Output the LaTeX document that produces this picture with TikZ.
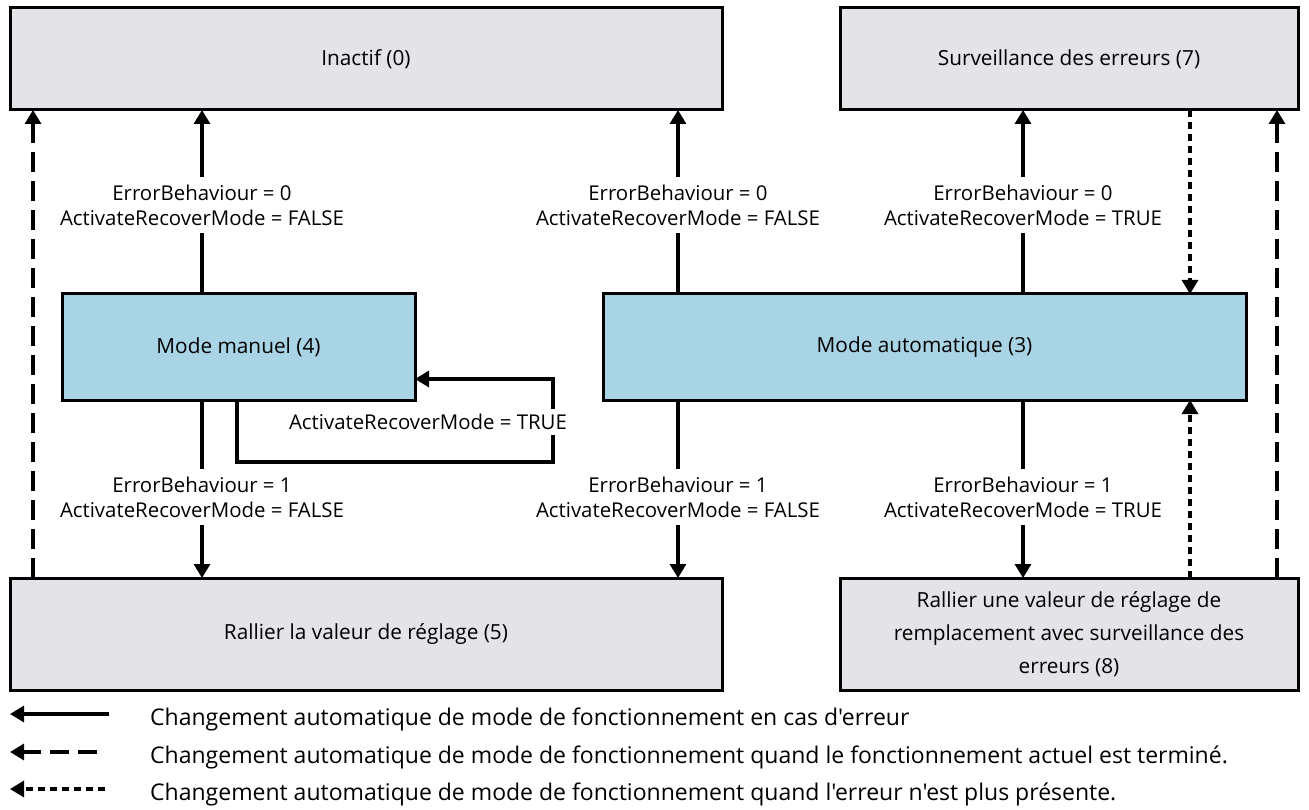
\documentclass[tikz,border=0pt]{standalone}
\usepackage{fontspec}
\setmainfont{Open Sans}[Ligatures=TeXOff]
\usetikzlibrary{arrows.meta}
\definecolor{boxgray}{HTML}{E3E3E8}
\definecolor{boxblue}{HTML}{A8D4E6}
\begin{document}
\begin{tikzpicture}[x=1pt,y=-1pt,
  every node/.style={font=\fontsize{20.8}{33}\selectfont},
  state/.style={draw=black,line width=3pt,fill=boxgray,inner sep=0pt,align=center},
  modebox/.style={state,fill=boxblue},
  conn/.style={line width=3.2pt,-{Triangle[width=16pt,length=14pt]}},
  errconn/.style={conn},
  doneconn/.style={conn,dash pattern=on 20pt off 9pt},
  clearconn/.style={conn,dash pattern=on 7pt off 5pt},
  cond/.style={fill=white,inner xsep=2pt,inner ysep=8pt,align=center,
    font=\fontsize{20.4}{25}\selectfont},
  legtext/.style={anchor=west,inner sep=0pt,font=\fontsize{23}{27}\selectfont}]
\useasboundingbox (0,0) rectangle (1309,810);
% states
\node[state,minimum width=712pt,minimum height=102pt] (s0) at (366,59) {Inactif (0)};
\node[state,minimum width=458pt,minimum height=102pt] (s7) at (1069,59) {Surveillance des erreurs (7)};
\node[modebox,minimum width=353pt,minimum height=106pt] (s4) at (238.5,347) {Mode manuel (4)};
\node[modebox,minimum width=643pt,minimum height=106pt] (s3) at (924.5,347) {Mode automatique (3)};
\node[state,minimum width=712pt,minimum height=112pt] (s5) at (366,634) {Rallier la valeur de réglage (5)};
\node[state,minimum width=458pt,minimum height=112pt] (s8) at (1069,634) {Rallier une valeur de réglage de\\remplacement avec surveillance des\\erreurs (8)};
% attachment points on the box edges
\coordinate (s4t) at (202,294);
\coordinate (s4b) at (202,400);
\coordinate (s0b1) at (202,110);
\coordinate (s5t1) at (202,578);
\coordinate (s3t1) at (678,294);
\coordinate (s0b2) at (678,110);
\coordinate (s3b1) at (678,400);
\coordinate (s5t2) at (678,578);
\coordinate (s3t2) at (1023,294);
\coordinate (s7b1) at (1023,110);
\coordinate (s3b2) at (1023,400);
\coordinate (s8t1) at (1023,578);
% error transitions with their conditions
\draw[errconn] (s4t) -- (s0b1);
\node[cond] (c1) at (202,205) {ErrorBehaviour = 0\\ActivateRecoverMode = FALSE};
\draw[errconn] (s3t1) -- (s0b2);
\node[cond] (c2) at (678,205) {ErrorBehaviour = 0\\ActivateRecoverMode = FALSE};
\draw[errconn] (s3t2) -- (s7b1);
\node[cond] (c3) at (1023,205) {ErrorBehaviour = 0\\ActivateRecoverMode = TRUE};
\draw[errconn] (s4b) -- (s5t1);
\node[cond] (c4) at (202,497) {ErrorBehaviour = 1\\ActivateRecoverMode = FALSE};
\draw[errconn] (s3b1) -- (s5t2);
\node[cond] (c5) at (678,497) {ErrorBehaviour = 1\\ActivateRecoverMode = FALSE};
\draw[errconn] (s3b2) -- (s8t1);
\node[cond] (c6) at (1023,497) {ErrorBehaviour = 1\\ActivateRecoverMode = TRUE};
% self loop on manual mode
\coordinate (l0) at (237,400);
\coordinate (l1) at (237,462);
\coordinate (l2) at (553,462);
\coordinate (l3) at (553,379);
\coordinate (l4) at (415,379);
\draw[errconn] (l0) -- (l1) -- (l2) -- (l3) -- (l4);
\node[cond,inner ysep=5pt] (c7) at (428,422) {ActivateRecoverMode = TRUE};
% transitions when the current operation has finished
\coordinate (d1a) at (33,578);   \coordinate (d1b) at (33,110);
\coordinate (d2a) at (1277,578); \coordinate (d2b) at (1277,110);
\draw[doneconn] (d1a) -- (d1b);
\draw[doneconn] (d2a) -- (d2b);
% transitions when the error has gone
\coordinate (e1a) at (1190,110); \coordinate (e1b) at (1190,294);
\coordinate (e2a) at (1190,578); \coordinate (e2b) at (1190,400);
\draw[clearconn] (e1a) -- (e1b);
\draw[clearconn] (e2a) -- (e2b);
% legend
\coordinate (la1) at (109,714); \coordinate (lb1) at (10,714);
\coordinate (la2) at (97,752);  \coordinate (lb2) at (10,752);
\coordinate (la3) at (105,789); \coordinate (lb3) at (10,789);
\draw[errconn] (la1) -- (lb1);
\draw[conn,dash pattern=on 19pt off 9pt] (la2) -- (lb2);
\draw[clearconn] (la3) -- (lb3);
\node[legtext] (t1) at (150,719) {Changement automatique de mode de fonctionnement en cas d'erreur};
\node[legtext] (t2) at (150,757) {Changement automatique de mode de fonctionnement quand le fonctionnement actuel est terminé.};
\node[legtext] (t3) at (150,794) {Changement automatique de mode de fonctionnement quand l'erreur n'est plus présente.};
\end{tikzpicture}
\end{document}
